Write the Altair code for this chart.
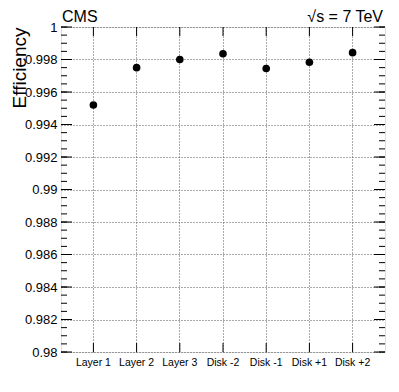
import altair as alt
import pandas as pd

categories = ["Layer 1", "Layer 2", "Layer 3", "Disk -2", "Disk -1", "Disk +1", "Disk +2"]
efficiency = [0.9952, 0.9975, 0.9980, 0.99835, 0.99745, 0.99783, 0.99842]
y_major = [0.98, 0.982, 0.984, 0.986, 0.988, 0.99, 0.992, 0.994, 0.996, 0.998, 1.0]
y_minor = [round(0.98 + 0.0005 * i, 4) for i in range(41)]

W, H = 324, 325
FONT = "Liberation Sans"

df = pd.DataFrame({"cat": categories, "eff": efficiency})
df_major = pd.DataFrame({"eff": y_major})
df_minor = pd.DataFrame({"eff": y_minor})
df_cat = pd.DataFrame({"cat": categories})

xscale = alt.Scale(domain=categories, padding=0.5)
yscale = alt.Scale(domain=[0.98, 1.0], zero=False, nice=False)

xaxis = alt.Axis(title=None, labelAngle=0, labelFontSize=10.5, labelFont=FONT,
                 labelColor="black", ticks=False, domain=False, labelPadding=5,
                 labelOverlap=False,
                 grid=True, gridDash=[1, 2], gridColor="#555", gridWidth=1)
yaxis = alt.Axis(title="Efficiency", values=y_major, format=".4~f",
                 labelFontSize=13, labelFont=FONT, labelColor="black",
                 labelOverlap=False,
                 ticks=False, domain=False, labelPadding=4,
                 grid=True, gridDash=[1, 2], gridColor="#555", gridWidth=1,
                 titleFont=FONT, titleFontSize=19, titleFontWeight="normal",
                 titleColor="black", titleAngle=270, titleAlign="right",
                 titleBaseline="alphabetic", titleX=-36, titleY=0)

X = alt.X("cat:N", sort=categories, scale=xscale, axis=xaxis)
Y = alt.Y("eff:Q", scale=yscale, axis=yaxis)

points = alt.Chart(df).mark_circle(size=58, color="black", opacity=1).encode(x=X, y=Y)

def yrule(d, x1, x2):
    return alt.Chart(d).mark_rule(color="black", strokeWidth=1).encode(
        y=Y, x=alt.value(x1), x2=alt.value(x2))

def xrule(y1, y2):
    return alt.Chart(df_cat).mark_rule(color="black", strokeWidth=1).encode(
        x=X, y=alt.value(y1), y2=alt.value(y2))

minor_l = yrule(df_minor, 0, 6)
minor_r = yrule(df_minor, W - 6, W)
major_l = yrule(df_major, 0, 11)
major_r = yrule(df_major, W - 11, W)
xt_b = xrule(H, H - 9)
xt_t = xrule(0, 9)

cms = alt.Chart(pd.DataFrame({"t": ["CMS"]})).mark_text(
    font=FONT, fontSize=16, align="left", baseline="alphabetic", color="black"
).encode(text="t:N", x=alt.value(1), y=alt.value(-5))
energy = alt.Chart(pd.DataFrame({"t": ["√s = 7 TeV"]})).mark_text(
    font=FONT, fontSize=16, align="right", baseline="alphabetic", color="black"
).encode(text="t:N", x=alt.value(W - 2), y=alt.value(-5))

chart = alt.layer(points, minor_l, minor_r, major_l, major_r, xt_b, xt_t, cms, energy).properties(
    width=W, height=H,
    autosize=alt.AutoSizeParams(type="none"),
    padding={"left": 53, "top": 19, "right": 5, "bottom": 30},
).configure_view(stroke="black", strokeWidth=1.5).configure(background="white")

chart.save("out.html", embed_options={"renderer": "svg", "actions": False})
